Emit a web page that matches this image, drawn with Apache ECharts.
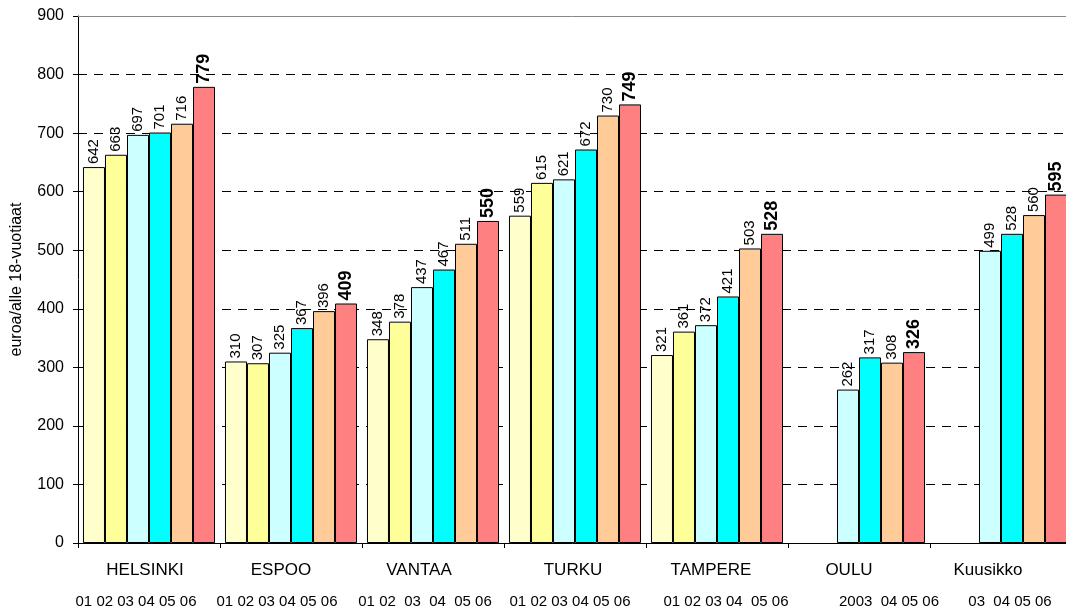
<!DOCTYPE html>
<html>
<head>
<meta charset="utf-8">
<script src="https://cdn.jsdelivr.net/npm/echarts@6/dist/echarts.min.js"></script>
<style>html,body{margin:0;padding:0;background:#fff}#c{width:1066px;height:610px}</style>
</head>
<body>
<div id="c"></div>
<script>
const categories = ['HELSINKI', 'ESPOO', 'VANTAA', 'TURKU', 'TAMPERE', 'OULU', 'Kuusikko'];
const yearLabels = ['01 02 03 04 05 06', '01 02 03 04 05 06', '01 02  03  04  05 06', '01 02 03 04 05 06', '01 02 03 04  05 06', '2003  04 05 06', '03  04 05 06'];
const seriesNames = ['2001', '2002', '2003', '2004', '2005', '2006'];
const y2001 = [642, 310, 348, 559, 321, null, null];
const y2002 = [663, 307, 378, 615, 361, null, null];
const y2003 = [697, 325, 437, 621, 372, 262, 499];
const y2004 = [701, 367, 467, 672, 421, 317, 528];
const y2005 = [716, 396, 511, 730, 503, 308, 560];
const y2006 = [779, 409, 550, 749, 528, 326, 595];
const yTicks = { min: 0, max: 900, interval: 100 };

const seriesData = [y2001, y2002, y2003, y2004, y2005, y2006];
const colors = ['#FFFFCC', '#FFFF99', '#CCFFFF', '#00FFFF', '#FFCC99', '#FF8080'];
const nameShift = [-4, -10, -14, -2, -6, -10, -13];
const yearShift = [-13, -14, -8, -5, 9, 30, 9];
const FONT = '"Liberation Sans", Arial, sans-serif';

function richFor(shifts, size) {
  const r = {};
  shifts.forEach((s, i) => {
    r['k' + i] = {
      fontSize: size, fontFamily: FONT, color: '#000',
      padding: s >= 0 ? [0, 0, 0, 2 * s] : [0, -2 * s, 0, 0]
    };
  });
  return r;
}

const series = seriesData.map((d, i) => ({
  name: seriesNames[i],
  type: 'bar',
  xAxisIndex: 0,
  data: d,
  barGap: '0%',
  barCategoryGap: '7%',
  itemStyle: { color: colors[i], borderColor: '#000', borderWidth: 1 },
  label: {
    show: true,
    position: 'top',
    rotate: 90,
    align: 'left',
    verticalAlign: 'middle',
    distance: 3,
    fontFamily: FONT,
    fontSize: i === 5 ? 18 : 15,
    fontWeight: i === 5 ? 'bold' : 'normal',
    color: '#000'
  },
  markLine: i === 0 ? {
    silent: true, symbol: 'none', animation: false,
    label: { show: false },
    lineStyle: { color: '#888', type: 'solid', width: 1 },
    data: [{ yAxis: yTicks.max }]
  } : undefined
}));

const chart = echarts.init(document.getElementById('c'));
chart.setOption({
  animation: false,
  backgroundColor: '#fff',
  grid: { left: 78, top: 16, width: 994, height: 527, containLabel: false, outerBoundsMode: 'none' },
  xAxis: [{
    type: 'category',
    data: categories,
    axisLine: { show: true, lineStyle: { color: '#000', width: 1 } },
    axisTick: { show: true, length: 5, lineStyle: { color: '#000' } },
    axisLabel: {
      interval: 0,
      margin: 19,
      formatter: (v, idx) => '{k' + idx + '|' + v + '}',
      rich: richFor(nameShift, 17)
    },
    splitLine: { show: false }
  }, {
    type: 'category',
    data: yearLabels,
    position: 'bottom',
    axisLine: { show: false },
    axisTick: { show: false },
    axisLabel: {
      interval: 0,
      margin: 51,
      formatter: (v, idx) => '{k' + idx + '|' + v + '}',
      rich: richFor(yearShift, 15)
    },
    splitLine: { show: false }
  }],
  yAxis: {
    type: 'value',
    min: yTicks.min, max: yTicks.max, interval: yTicks.interval,
    name: 'euroa/alle 18-vuotiaat',
    nameLocation: 'middle',
    nameGap: 53,
    nameRotate: 90,
    nameTextStyle: { fontFamily: FONT, fontSize: 16, color: '#000' },
    axisLine: { show: true, lineStyle: { color: '#000', width: 1 } },
    axisTick: { show: true, length: 5, lineStyle: { color: '#000' } },
    axisLabel: { margin: 14, fontFamily: FONT, fontSize: 16, color: '#000' },
    splitLine: { show: true, lineStyle: { color: '#000', type: [9, 7], width: 1 } }
  },
  series: series
});
</script>
</body>
</html>
